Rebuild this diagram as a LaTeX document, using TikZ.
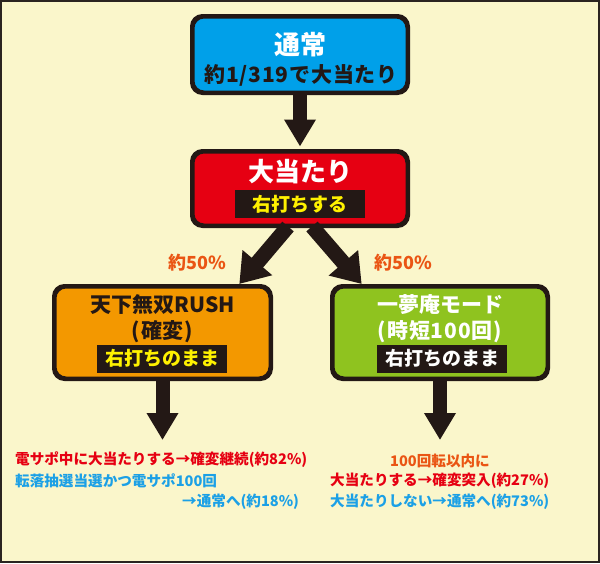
\documentclass[tikz,border=0pt]{standalone}
\usepackage{fontspec}
\setmainfont{Noto Sans CJK JP}
\usetikzlibrary{arrows.meta}
\definecolor{bgc}{HTML}{FAF6CB}
\definecolor{framec}{HTML}{2A2420}
\definecolor{inkc}{HTML}{231815}
\definecolor{cyanc}{HTML}{00A0E9}
\definecolor{redc}{HTML}{E60012}
\definecolor{orangec}{HTML}{F39800}
\definecolor{greenc}{HTML}{8FC31F}
\definecolor{labelorange}{HTML}{EA5514}
\definecolor{yellowc}{HTML}{FFF100}
\definecolor{bluetext}{HTML}{1BA0E6}
\tikzset{
  boxstyle/.style={draw=inkc, line width=3pt, rounded corners=11pt, inner sep=0pt},
  tagbox/.style={fill=inkc, minimum width=130pt, minimum height=28pt, inner sep=0pt},
  txt/.style={inner sep=0pt},
  bigtitle/.style={font=\bfseries\fontsize{26}{30}\selectfont},
  midtitle/.style={font=\bfseries\fontsize{21}{25}\selectfont},
  spaced/.style={font=\bfseries\fontsize{21}{25}\selectfont\addfontfeatures{LetterSpace=4}},
  tagtxt/.style={font=\bfseries\fontsize{19}{22}\selectfont},
  pct/.style={font=\bfseries\fontsize{18}{21}\selectfont, text=labelorange},
  small/.style={font=\bfseries\fontsize{14.6}{18}\selectfont},
  vertarrow/.style={draw=inkc, line width=14pt, -{Triangle[width=30pt,length=27pt]}},
  diagarrow/.style={draw=inkc, line width=15pt, -{Triangle[width=37pt,length=28pt]}}
}
\begin{document}
\begin{tikzpicture}[x=1pt,y=-1pt]
\useasboundingbox (0,0) rectangle (600,563);
\fill[bgc] (0,0) rectangle (600,563);
\draw[framec, line width=2pt] (1,1) rectangle (599,562);

% boxes
\node[boxstyle, fill=cyanc, minimum width=214pt, minimum height=75pt] (b1) at (300,54.5) {};
\node[boxstyle, fill=redc, minimum width=214pt, minimum height=73pt] (b2) at (300,188.5) {};
\node[boxstyle, fill=orangec, minimum width=215pt, minimum height=91pt] (b3) at (162.5,332.5) {};
\node[boxstyle, fill=greenc, minimum width=214pt, minimum height=91pt] (b4) at (440,332.5) {};

% arrows
\draw[vertarrow, shorten >=4pt] (b1.south) -- (b2.north);
\draw[diagarrow, shorten >=2pt] ([xshift=-12pt]b2.south) -- ([xshift=75.5pt]b3.north);
\draw[diagarrow, shorten >=2pt] ([xshift=12pt]b2.south) -- ([xshift=-77pt]b4.north);
\coordinate (t3) at (162.5,440);
\coordinate (t4) at (440,440);
\draw[vertarrow] (b3.south) -- (t3);
\draw[vertarrow] (b4.south) -- (t4);

% redraw box borders over arrow starts
\draw[draw=inkc, line width=3pt, rounded corners=11pt] (b1.south west) rectangle (b1.north east);
\draw[draw=inkc, line width=3pt, rounded corners=11pt] (b2.south west) rectangle (b2.north east);
\draw[draw=inkc, line width=3pt, rounded corners=11pt] (b3.south west) rectangle (b3.north east);
\draw[draw=inkc, line width=3pt, rounded corners=11pt] (b4.south west) rectangle (b4.north east);

% box 1 texts
\node[txt, bigtitle, text=white] (b1a) at (300,45) {通常};
\node[txt, spaced, text=inkc] (b1b) at (301,75) {約1/319で大当たり};

% box 2 texts
\node[txt, bigtitle, text=white] (b2a) at (300,172) {大当たり};
\node[tagbox] (b2tag) at (300,204) {};
\node[txt, tagtxt, text=yellowc] (b2b) at (300,204) {右打ちする};

% box 3 texts
\node[txt, midtitle, text=inkc] (b3a) at (162.5,305) {天下無双RUSH};
\node[txt, spaced, text=inkc] (b3b) at (162.5,332) {(確変)};
\node[tagbox] (b3tag) at (162,358.5) {};
\node[txt, tagtxt, text=yellowc] (b3c) at (162,358.5) {右打ちのまま};

% box 4 texts
\node[txt, midtitle, text=white] (b4a) at (440,305) {一夢庵モード};
\node[txt, spaced, text=white] (b4b) at (440,332) {(時短100回)};
\node[tagbox] (b4tag) at (442,358.5) {};
\node[txt, tagtxt, text=white] (b4c) at (442,358.5) {右打ちのまま};

% percent labels
\node[txt, pct] (p1) at (197,263) {約50\%};
\node[txt, pct] (p2) at (403,263) {約50\%};

% bottom left texts
\node[txt, small, text=redc, anchor=west] (l1) at (15,460) {電サポ中に大当たりする→確変継続(約82\%)};
\node[txt, small, text=bluetext, anchor=west] (l2) at (15,481) {転落抽選当選かつ電サポ100回};
\node[txt, small, text=bluetext, anchor=west] (l3) at (182,502) {→通常へ(約18\%)};

% bottom right texts
\node[txt, small, text=labelorange] (r1) at (440,461) {100回転以内に};
\node[txt, small, text=redc, anchor=west] (r2) at (330,481) {大当たりする→確変突入(約27\%)};
\node[txt, small, text=bluetext, anchor=west] (r3) at (330,502) {大当たりしない→通常へ(約73\%)};
\end{tikzpicture}
\end{document}
